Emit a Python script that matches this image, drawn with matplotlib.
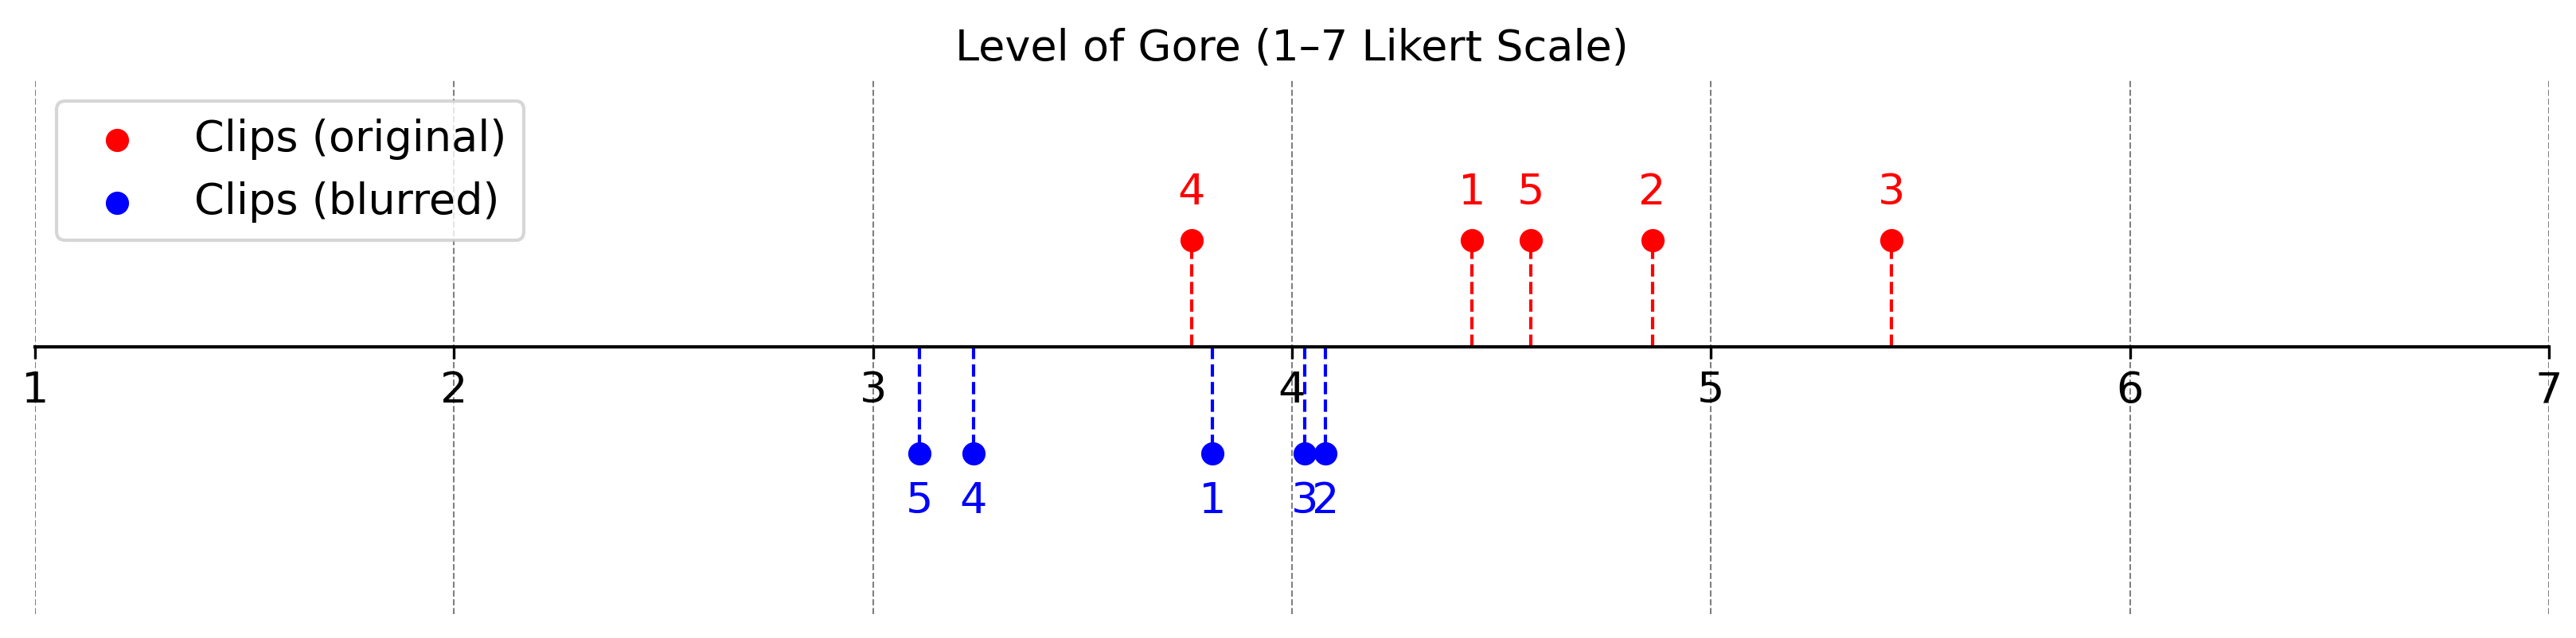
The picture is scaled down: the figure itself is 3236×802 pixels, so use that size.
import matplotlib
matplotlib.use("Agg")
import matplotlib.pyplot as plt

# Mean gore ratings per clip (1-7 Likert)
orig_clips = ["1", "2", "3", "4", "5"]
orig_scores = [4.43, 4.86, 5.43, 3.76, 4.57]
blur_clips = ["1", "2", "3", "4", "5"]
blur_scores = [3.81, 4.08, 4.03, 3.24, 3.11]

plt.rcParams["font.size"] = 13

fig = plt.figure(figsize=(3237 / 300, 802 / 300), dpi=300)
ax = fig.add_axes([44 / 3237, 30 / 802, 3158 / 3237, 672 / 802])

# Original clips above the line
ax.scatter(orig_scores, [0.4] * len(orig_scores), color="red",
           label="Clips (original)", zorder=3)
ax.vlines(orig_scores, 0, 0.4, colors="red", linestyles="--", linewidth=1)
for s, c in zip(orig_scores, orig_clips):
    ax.text(s, 0.5, c, color="red", ha="center", va="bottom")

# Blurred clips below the line
ax.scatter(blur_scores, [-0.4] * len(blur_scores), color="blue",
           label="Clips (blurred)", zorder=3)
ax.vlines(blur_scores, 0, -0.4, colors="blue", linestyles="--", linewidth=1)
for s, c in zip(blur_scores, blur_clips):
    ax.text(s, -0.5, c, color="blue", ha="center", va="top")

ax.set_xlim(1, 7)
ax.set_ylim(-1, 1)
ax.set_xticks(range(1, 8))
ax.set_yticks([])
ax.spines["bottom"].set_position("zero")
ax.spines["bottom"].set_linewidth(1)
for side in ["top", "left", "right"]:
    ax.spines[side].set_visible(False)
ax.grid(axis="x", color="gray", linestyle="--", linewidth=0.5)
ax.set_axisbelow(True)

ax.set_title("Level of Gore (1\u20137 Likert Scale)", fontsize=13)
ax.legend(loc="upper left")

fig.savefig("out.png", dpi=300)
